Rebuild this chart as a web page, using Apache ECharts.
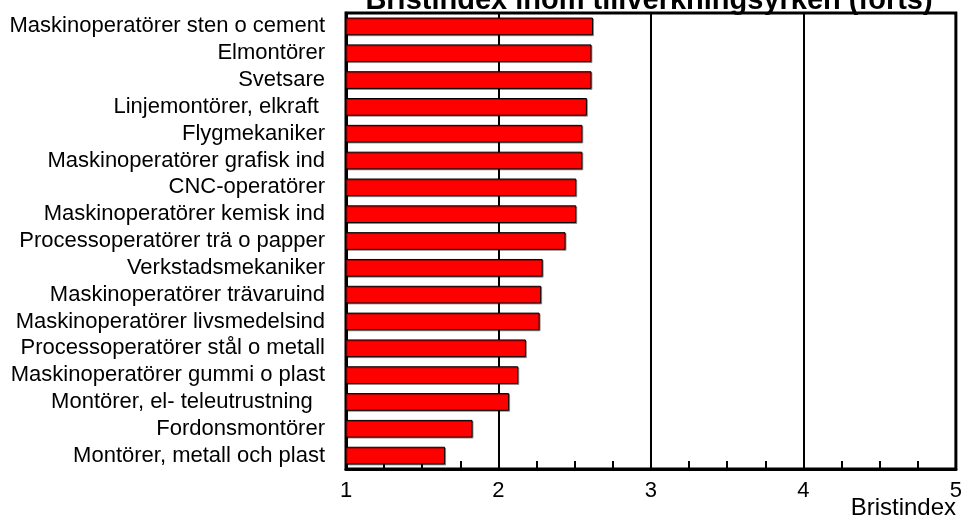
<!DOCTYPE html>
<html><head><meta charset="utf-8">
<script src="https://cdn.jsdelivr.net/npm/echarts@6/dist/echarts.min.js"></script>
<style>html,body{margin:0;padding:0;background:#fff}#c{width:965px;height:529px}</style>
</head><body><div id="c"></div>
<script>
var titleText = 'Bristindex inom tillverkningsyrken (forts)';
var axisName = 'Bristindex';
var categories = [
  'Maskinoperatörer sten o cement',
  'Elmontörer',
  'Svetsare',
  'Linjemontörer, elkraft ',
  'Flygmekaniker',
  'Maskinoperatörer grafisk ind',
  'CNC-operatörer',
  'Maskinoperatörer kemisk ind',
  'Processoperatörer trä o papper',
  'Verkstadsmekaniker',
  'Maskinoperatörer trävaruind',
  'Maskinoperatörer livsmedelsind',
  'Processoperatörer stål o metall',
  'Maskinoperatörer gummi o plast',
  'Montörer, el- teleutrustning  ',
  'Fordonsmontörer',
  'Montörer, metall och plast'
];
var values = [2.62, 2.61, 2.61, 2.58, 2.55, 2.55, 2.51, 2.51, 2.44, 2.29, 2.28, 2.27, 2.18, 2.13, 2.07, 1.83, 1.65];
var xMin = 1, xMax = 5, xStep = 1;

var chart = echarts.init(document.getElementById('c'), null, {renderer: 'canvas'});
var FONT = 'Liberation Sans, Arial, sans-serif';
chart.setOption({
  animation: false,
  textStyle: {fontFamily: FONT},
  grid: {left: 346, right: 7, top: 13, bottom: 60, show: true, borderColor: '#000', borderWidth: 3, backgroundColor: 'transparent'},
  xAxis: {
    type: 'value', min: xMin, max: xMax, interval: xStep,
    axisLine: {show: true, lineStyle: {color: '#000', width: 3}},
    axisTick: {show: true, inside: true, length: 8, lineStyle: {color: '#000', width: 2}},
    minorTick: {show: true, splitNumber: 4, length: 8, lineStyle: {color: '#000', width: 2}},
    splitLine: {show: true, lineStyle: {color: '#000', width: 2}},
    axisLabel: {color: '#000', fontSize: 22, margin: 11, fontFamily: FONT}
  },
  yAxis: {
    type: 'category', data: categories, inverse: true,
    axisLine: {show: true, lineStyle: {color: '#000', width: 3}},
    axisTick: {show: false},
    axisLabel: {color: '#000', fontSize: 22, margin: 21, interval: 0, fontFamily: FONT}
  },
  series: [{
    type: 'bar', data: values, barWidth: '66%',
    itemStyle: {color: '#ff0000', borderColor: '#000', borderWidth: 1, shadowColor: 'rgba(0,0,0,0.35)', shadowOffsetX: 1, shadowOffsetY: 1}
  }],
  graphic: [
    {type: 'text', style: {text: titleText, x: 649, y: 15, align: 'center', verticalAlign: 'bottom', font: 'bold 29px ' + FONT, fill: '#000'}},
    {type: 'text', style: {text: axisName, x: 956, y: 496, align: 'right', verticalAlign: 'top', font: '24px ' + FONT, fill: '#000'}}
  ]
});
</script></body></html>
